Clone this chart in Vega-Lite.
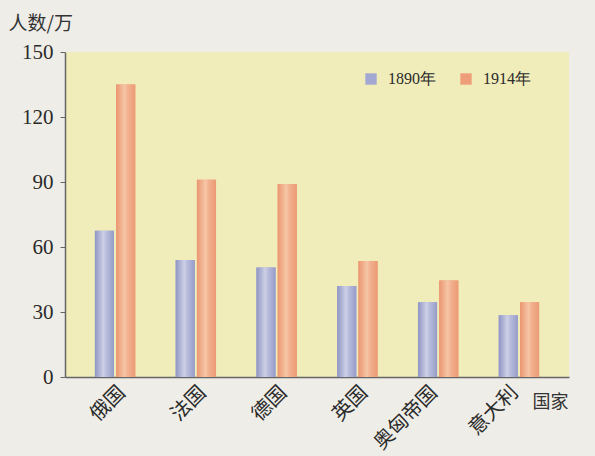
{
  "$schema": "https://vega.github.io/schema/vega-lite/v6.json",
  "width": 504,
  "height": 325,
  "autosize": {"type": "none"},
  "padding": {"left": 65, "top": 52, "right": 26, "bottom": 79},
  "background": "#eeede7",
  "config": {
    "view": {"fill": "#f0edbb", "stroke": null}
  },
  "data": {
    "values": [
      {"country": "俄国", "year": "1890年", "value": 67.5},
      {"country": "俄国", "year": "1914年", "value": 135},
      {"country": "法国", "year": "1890年", "value": 54},
      {"country": "法国", "year": "1914年", "value": 91},
      {"country": "德国", "year": "1890年", "value": 50.5},
      {"country": "德国", "year": "1914年", "value": 89},
      {"country": "英国", "year": "1890年", "value": 42},
      {"country": "英国", "year": "1914年", "value": 53.5},
      {"country": "奥匈帝国", "year": "1890年", "value": 34.5},
      {"country": "奥匈帝国", "year": "1914年", "value": 44.5},
      {"country": "意大利", "year": "1890年", "value": 28.5},
      {"country": "意大利", "year": "1914年", "value": 34.5}
    ]
  },
  "encoding": {
    "x": {
      "field": "country",
      "type": "nominal",
      "sort": null,
      "scale": {"paddingInner": 0.5, "paddingOuter": 0.37},
      "axis": {
        "title": "国家",
        "titleX": 467,
        "titleY": 25,
        "titleAlign": "left",
        "titleBaseline": "middle",
        "titleAnchor": "start",
        "titleFont": "Noto Sans CJK SC",
        "titleFontSize": 18,
        "titleFontWeight": "normal",
        "titleColor": "#333333",
        "labelAngle": -45,
        "labelFont": "Noto Sans CJK SC",
        "labelFontSize": 20,
        "labelColor": "#2a2a2a",
        "labelPadding": 5,
        "labelOffset": {"condition": {"test": "length(datum.label) >= 3", "value": -11}, "value": 0},
        "ticks": false,
        "domainColor": "#666666",
        "domainWidth": 1.5
      }
    },
    "xOffset": {
      "field": "year",
      "type": "nominal",
      "scale": {"paddingInner": 0.1}
    },
    "y": {
      "field": "value",
      "type": "quantitative",
      "scale": {"domain": [0, 150], "nice": false},
      "axis": {
        "values": [0, 30, 60, 90, 120, 150],
        "grid": false,
        "title": "人数/万",
        "titleAngle": 0,
        "titleX": -57,
        "titleY": -29,
        "titleAlign": "left",
        "titleBaseline": "middle",
        "titleFont": "Noto Sans CJK SC",
        "titleFontSize": 19,
        "titleFontWeight": "normal",
        "titleColor": "#333333",
        "labelFont": "Liberation Serif",
        "labelFontSize": 21,
        "labelColor": "#2a2a2a",
        "labelPadding": 7,
        "tickSize": 5,
        "tickColor": "#666666",
        "domainColor": "#666666",
        "domainWidth": 1.5
      }
    }
  },
  "layer": [
    {
      "mark": {"type": "bar"},
      "encoding": {
        "color": {
          "field": "year",
          "type": "nominal",
          "scale": {"domain": ["1890年", "1914年"], "range": ["#a3a8d2", "#ee9f7a"]},
          "legend": {
            "title": null,
            "orient": "none",
            "direction": "horizontal",
            "legendX": 298,
            "legendY": 19,
            "symbolType": "square",
            "symbolSize": 130,
            "symbolStrokeWidth": 0,
            "labelFont": "Liberation Serif",
            "labelFontSize": 16,
            "labelColor": "#2a2a2a",
            "labelOffset": 9,
            "columnPadding": 22
          }
        }
      }
    },
    {
      "transform": [{"filter": "datum.year === '1890年'"}],
      "mark": {
        "type": "bar",
        "fill": {
          "gradient": "linear",
          "x1": 0, "x2": 1, "y1": 0, "y2": 0,
          "stops": [
            {"offset": 0, "color": "#8f95c3"},
            {"offset": 0.45, "color": "#cdd0e6"},
            {"offset": 0.6, "color": "#b9bddd"},
            {"offset": 1, "color": "#959bc8"}
          ]
        }
      }
    },
    {
      "transform": [{"filter": "datum.year === '1914年'"}],
      "mark": {
        "type": "bar",
        "fill": {
          "gradient": "linear",
          "x1": 0, "x2": 1, "y1": 0, "y2": 0,
          "stops": [
            {"offset": 0, "color": "#eb9670"},
            {"offset": 0.45, "color": "#f6c6a6"},
            {"offset": 0.6, "color": "#f2b290"},
            {"offset": 1, "color": "#ec9a74"}
          ]
        }
      }
    }
  ]
}
